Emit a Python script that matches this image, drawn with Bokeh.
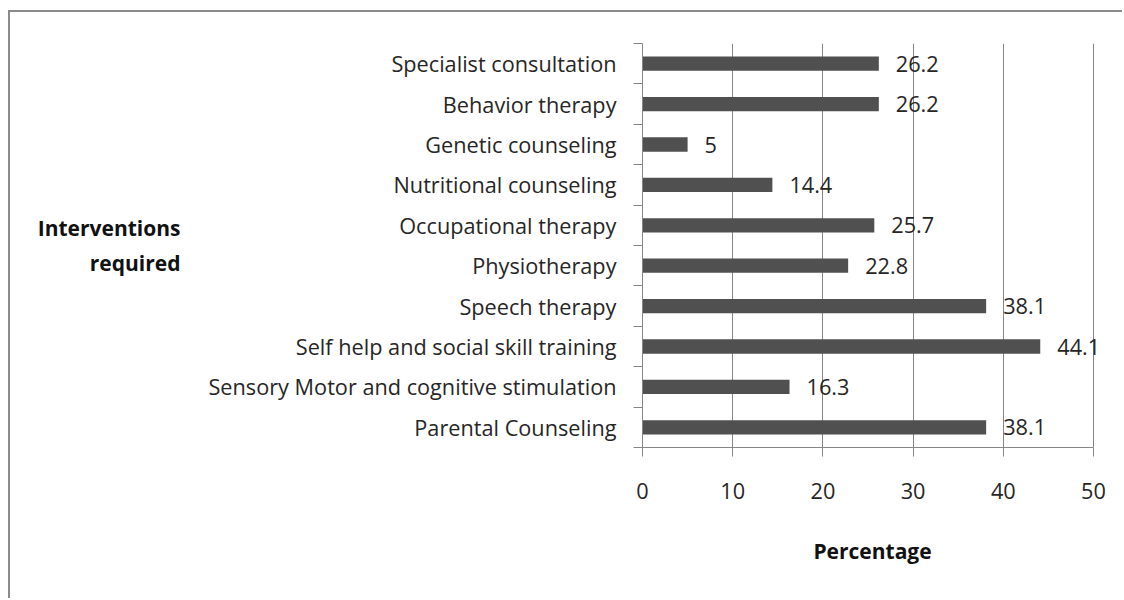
from bokeh.plotting import figure
from bokeh.models import (ColumnDataSource, Range1d, FixedTicker, LinearAxis,
                          CustomJSTickFormatter, LabelSet)
from bokeh.core.properties import value
from bokeh.embed import file_html
from bokeh.resources import INLINE

# ---- data ----
categories = ["Parental Counseling",
              "Sensory Motor and cognitive stimulation",
              "Self help and social skill training",
              "Speech therapy",
              "Physiotherapy",
              "Occupational therapy",
              "Nutritional counseling",
              "Genetic counseling",
              "Behavior therapy",
              "Specialist consultation"]
values = [38.1, 16.3, 44.1, 38.1, 22.8, 25.7, 14.4, 5, 26.2, 26.2]
x_ticks = [0, 10, 20, 30, 40, 50]
x_title = "Percentage"
y_title = "Interventions\nrequired"

positions = list(range(1, len(categories) + 1))
boundaries = [i + 0.5 for i in range(len(categories) + 1)]
labels = [f"{v:g}" for v in values]

FONT = "Open Sans"
GRID = "#868686"
TXT = "#262626"
FS = "21.7px"

src = ColumnDataSource(dict(pos=positions, value=values, label=labels))

# the range reaches a little past the last tick so that the value label of
# the longest bar is not clipped; the axis line itself stops at the last tick
p = figure(width=1114, height=588,
           x_range=Range1d(0, x_ticks[-1] + 1),
           y_range=Range1d(boundaries[0], boundaries[-1]),
           output_backend="svg", toolbar_location=None,
           min_border_left=632, min_border_right=22,
           min_border_top=31, min_border_bottom=153)
p.outline_line_color = None
p.background_fill_color = "white"
p.border_fill_color = "white"
p.styles = {"border-top": "2px solid #8c8c8c",
            "border-left": "2px solid #8c8c8c",
            "margin-top": "10px", "margin-left": "8px"}

# grid
p.xgrid.ticker = FixedTicker(ticks=x_ticks)
p.xgrid.grid_line_color = GRID
p.xgrid.grid_line_width = 1
p.ygrid.visible = False

# x axis
xa = p.xaxis[0]
xa.ticker = FixedTicker(ticks=x_ticks)
xa.bounds = (x_ticks[0], x_ticks[-1])
xa.axis_line_color = GRID
xa.major_tick_line_color = GRID
xa.major_tick_out = 9
xa.major_tick_in = 0
xa.minor_tick_line_color = None
xa.major_label_text_font = FONT
xa.major_label_text_font_size = FS
xa.major_label_text_color = TXT
xa.major_label_standoff = 26
xa.axis_label = x_title
xa.axis_label_text_font = FONT
xa.axis_label_text_font_style = "bold"
xa.axis_label_text_font_size = "21px"
xa.axis_label_text_color = "#111111"
xa.axis_label_standoff = 35

# y axis: tick marks at category boundaries
ya = p.yaxis[0]
ya.ticker = FixedTicker(ticks=boundaries)
ya.formatter = CustomJSTickFormatter(code="return ''")
ya.axis_line_color = GRID
ya.major_tick_line_color = GRID
ya.major_tick_out = 9
ya.major_tick_in = 0
ya.minor_tick_line_color = None
ya.major_label_standoff = 0

# y axis: category labels and horizontal title
la = LinearAxis(ticker=FixedTicker(ticks=positions),
                major_label_overrides=dict(zip(positions, categories)))
la.axis_line_color = None
la.major_tick_line_color = None
la.minor_tick_line_color = None
la.major_label_text_font = FONT
la.major_label_text_font_size = FS
la.major_label_text_color = TXT
la.major_label_standoff = 11
la.axis_label = y_title
la.axis_label_orientation = "horizontal"
la.axis_label_text_align = "center"
la.axis_label_text_font = FONT
la.axis_label_text_font_style = "bold"
la.axis_label_text_font_size = "21px"
la.axis_label_text_color = "#111111"
la.axis_label_text_line_height = 1.22
la.axis_label_standoff = 25
p.add_layout(la, "left")

# bars and value labels
p.hbar(y="pos", left=0, right="value", height=0.355, source=src,
       fill_color="#505050", line_color=None)
p.add_layout(LabelSet(x="value", y="pos", text="label", source=src,
                      x_offset=17, text_align="left", text_baseline="middle",
                      text_font=value(FONT), text_font_size=value(FS),
                      text_color=TXT))

open("out.html", "w").write(file_html(p, INLINE))
